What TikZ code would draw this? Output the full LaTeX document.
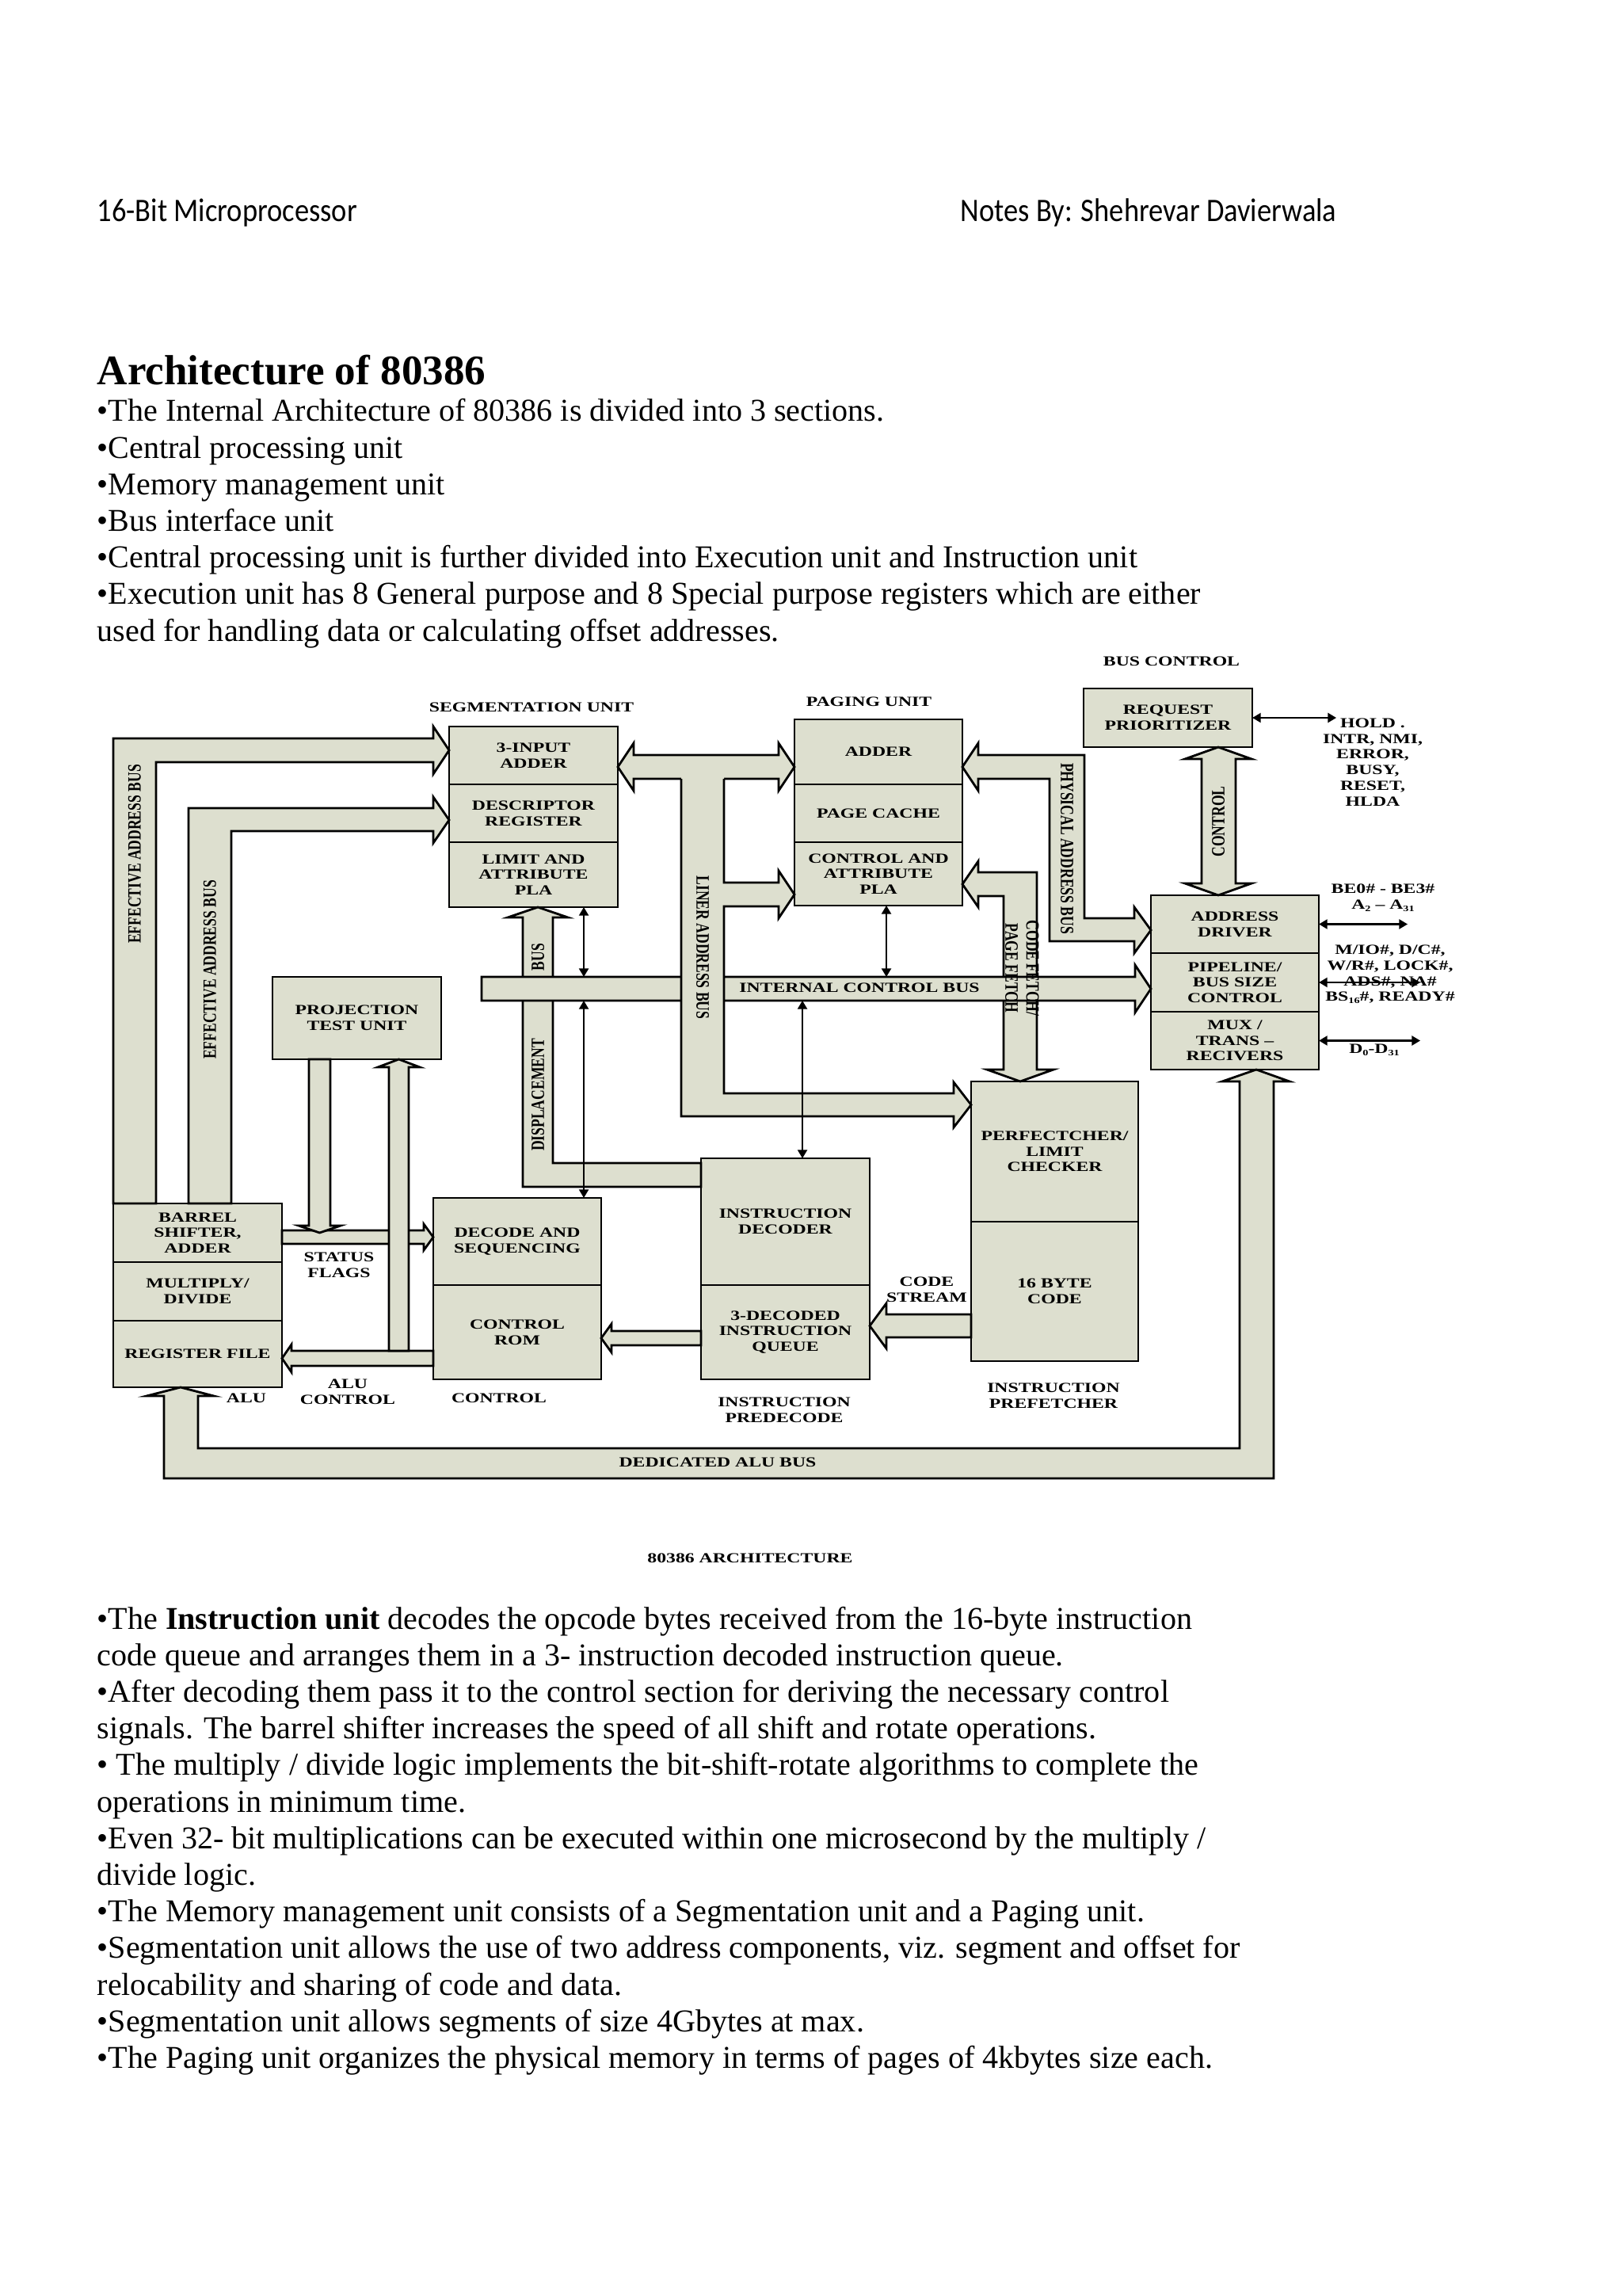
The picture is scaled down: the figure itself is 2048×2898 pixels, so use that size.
\documentclass[tikz,border=0pt]{standalone}
\usepackage{fontspec}
\usepackage{graphicx}
\setmainfont{Liberation Serif}
\newfontfamily\headfont{Carlito}[FakeStretch=0.88]
\newfontfamily\diagfont{Liberation Serif}[FakeStretch=1.35]
\newfontfamily\vertfont{Liberation Serif}
\usetikzlibrary{arrows.meta}
\definecolor{busgrey}{RGB}{221,223,207}
\newcommand{\diagtxt}{\diagfont\bfseries\fontsize{5}{5.6}\selectfont}
\newcommand{\vertxt}{\vertfont\bfseries\fontsize{5}{5.6}\selectfont}
\newcommand{\vstretch}[1]{\scalebox{1}[1.35]{#1}}
\newcommand{\sbs}[1]{\raisebox{-0.4ex}{\fontsize{3}{3}\selectfont #1}}
\newcommand{\bodyfont}{\fontsize{11.4}{13}\selectfont}
\tikzset{
  blk/.style={draw=black, fill=busgrey, line width=0.8pt, inner sep=0pt, outer sep=0pt, align=center, font=\diagtxt},
  bus/.style={draw=black, fill=busgrey, line width=0.8pt, line join=miter},
  busedge/.style={draw=black, line width=0.8pt, line join=miter},
  sig/.style={{Triangle[length=3pt,width=3.4pt]}-{Triangle[length=3pt,width=3.4pt]}, line width=0.6pt},
  lbl/.style={align=center, inner sep=0pt, font=\diagtxt},
  vlbl/.style={inner sep=0pt, font=\vertxt},
  bodytxt/.style={anchor=base west, inner sep=0pt, font=\bodyfont}
}
\begin{document}
\begin{tikzpicture}[x=0.01cm, y=-0.01cm]
\useasboundingbox (0,0) rectangle (2048,2898);

% page header and text above the figure
\node[anchor=base west, inner sep=0pt, font=\headfont\fontsize{11.8}{13}\selectfont] (hdleft) at (122,280) {16-Bit Microprocessor};
\node[anchor=base east, inner sep=0pt, font=\headfont\fontsize{11.8}{13}\selectfont] (hdright) at (1688,280) {Notes By: Shehrevar Davierwala};
\node[anchor=base west, inner sep=0pt, font=\bfseries\fontsize{15.1}{17}\selectfont] (title) at (122,486) {Architecture of 80386};
\foreach \ln [count=\k from 0] in {
  {•The Internal Architecture of 80386 is divided into 3 sections.},
  {•Central processing unit},
  {•Memory management unit},
  {•Bus interface unit},
  {•Central processing unit is further divided into Execution unit and Instruction unit},
  {•Execution unit has 8 General purpose and 8 Special purpose registers which are either},
  {used for handling data or calculating offset addresses.}}
  \node[bodytxt] (intro\k) at (122,{532+46.2*\k}) {\ln};

% memory management: segmentation and paging
\node[lbl] (seghead) at (671,893) {SEGMENTATION UNIT};
\node[lbl] (pghead) at (1097,886) {PAGING UNIT};
\node[blk, minimum width=2.13cm, minimum height=0.73cm] (segadd) at (673.5,953.5) {3-INPUT\\ADDER};
\node[blk, minimum width=2.13cm, minimum height=0.73cm] (segdesc) at (673.5,1026.5) {DESCRIPTOR\\REGISTER};
\node[blk, minimum width=2.13cm, minimum height=0.82cm] (segpla) at (673.5,1104) {LIMIT AND\\ATTRIBUTE\\PLA};
\node[blk, minimum width=2.12cm, minimum height=0.82cm] (pgadd) at (1109,949) {ADDER};
\node[blk, minimum width=2.12cm, minimum height=0.73cm] (pgcache) at (1109,1026.5) {PAGE CACHE};
\node[blk, minimum width=2.12cm, minimum height=0.80cm] (pgpla) at (1109,1103) {CONTROL AND\\ATTRIBUTE\\PLA};

% bus control
\node[lbl] (bchead) at (1479,835) {BUS CONTROL};
\node[blk, minimum width=2.13cm, minimum height=0.74cm] (req) at (1474.5,906) {REQUEST\\PRIORITIZER};
\node[blk, minimum width=2.12cm, minimum height=0.73cm] (addrdrv) at (1559,1166.5) {ADDRESS\\DRIVER};
\node[blk, minimum width=2.12cm, minimum height=0.74cm] (pipeline) at (1559,1240) {PIPELINE/\\BUS SIZE\\CONTROL};
\node[blk, minimum width=2.12cm, minimum height=0.73cm] (mux) at (1559,1313.5) {MUX /\\TRANS –\\RECIVERS};

% execution and instruction units
\node[blk, minimum width=2.13cm, minimum height=1.04cm] (ptu) at (450.5,1285) {PROJECTION\\TEST UNIT};
\node[blk, minimum width=2.13cm, minimum height=0.74cm] (barrel) at (249.5,1556) {BARREL\\SHIFTER,\\ADDER};
\node[blk, minimum width=2.13cm, minimum height=0.74cm] (muldiv) at (249.5,1630) {MULTIPLY/\\DIVIDE};
\node[blk, minimum width=2.13cm, minimum height=0.84cm] (regfile) at (249.5,1709) {REGISTER FILE};
\node[blk, minimum width=2.12cm, minimum height=1.10cm] (decseq) at (653,1567) {DECODE AND\\SEQUENCING};
\node[blk, minimum width=2.12cm, minimum height=1.19cm] (ctrlrom) at (653,1681.5) {CONTROL\\ROM};
\node[blk, minimum width=2.13cm, minimum height=1.60cm] (insdec) at (991.5,1542) {INSTRUCTION\\DECODER};
\node[blk, minimum width=2.13cm, minimum height=1.19cm] (queue) at (991.5,1681.5) {3-DECODED\\INSTRUCTION\\QUEUE};
\node[blk, minimum width=2.11cm, minimum height=1.77cm] (limchk) at (1331.5,1453.5) {PERFECTCHER/\\LIMIT\\CHECKER};
\node[blk, minimum width=2.11cm, minimum height=1.76cm] (bytecode) at (1331.5,1630) {16 BYTE\\CODE};

% buses
\draw[bus] (143,1519) -- (143,932) -- (547,932) -- (547,917) -- (567,947) -- (547,977) -- (547,962) -- (197,962) -- (197,1519) -- cycle;
\draw[bus] (238,1519) -- (238,1020) -- (547,1020) -- (547,1006) -- (567,1035) -- (547,1064) -- (547,1049) -- (292,1049) -- (292,1519) -- cycle;
\draw[bus] (780,968) -- (800,938) -- (800,953) -- (983,953) -- (983,938) -- (1003,968) -- (983,998) -- (983,983) -- (800,983) -- (800,998) -- cycle;
\draw[bus] (1215,968) -- (1235,938) -- (1235,953) -- (1369,953) -- (1369,1159) -- (1432,1159) -- (1432,1145) -- (1453,1174) -- (1432,1203) -- (1432,1188) -- (1325,1188) -- (1325,983) -- (1235,983) -- (1235,998) -- cycle;
\draw[bus] (1215,1116) -- (1235,1087) -- (1235,1101) -- (1309,1101) -- (1309,1350) -- (1330,1350) -- (1288,1365) -- (1246,1350) -- (1267,1350) -- (1267,1131) -- (1235,1131) -- (1235,1145) -- cycle;
\draw[bus] (660,1498) -- (660,1158) -- (641,1158) -- (679,1145) -- (717,1158) -- (698,1158) -- (698,1468) -- (885,1468) -- (885,1498) -- cycle;
\draw[bus] (1538,943) -- (1580,958) -- (1560,958) -- (1560,1115) -- (1580,1115) -- (1538,1130) -- (1496,1115) -- (1517,1115) -- (1517,958) -- (1496,958) -- cycle;
\draw[bus] (608,1233) -- (1433,1233) -- (1433,1218) -- (1453,1248) -- (1433,1278) -- (1433,1263) -- (608,1263) -- cycle;
\fill[busgrey] (860,981) -- (860,1409) -- (1204,1409) -- (1204,1423) -- (1226,1394.5) -- (1204,1366) -- (1204,1380) -- (914,1380) -- (914,1144) -- (983,1144) -- (983,1159) -- (1003,1129) -- (983,1099) -- (983,1114) -- (914,1114) -- (914,981) -- cycle;
\draw[busedge] (860,983) -- (860,1409) -- (1204,1409) -- (1204,1423) -- (1226,1394.5) -- (1204,1366) -- (1204,1380) -- (914,1380) -- (914,1144) -- (983,1144) -- (983,1159) -- (1003,1129) -- (983,1099) -- (983,1114) -- (914,1114) -- (914,983);
\draw[bus] (356,1553) -- (535,1553) -- (535,1545) -- (547,1561.5) -- (535,1578) -- (535,1570) -- (356,1570) -- cycle;
\draw[bus] (390,1337) -- (390,1547) -- (377,1547) -- (403.5,1556) -- (430,1547) -- (417,1547) -- (417,1337) -- cycle;
\draw[bus] (547,1705) -- (368,1705) -- (368,1697) -- (356,1714.5) -- (368,1732) -- (368,1724) -- (547,1724) -- cycle;
\draw[bus] (491,1705) -- (491,1347) -- (477,1347) -- (503.5,1337) -- (530,1347) -- (516,1347) -- (516,1705) -- cycle;
\draw[bus] (885,1680) -- (772,1680) -- (772,1671) -- (759,1689) -- (772,1707) -- (772,1698) -- (885,1698) -- cycle;
\draw[bus] (1226,1659) -- (1119,1659) -- (1119,1645) -- (1098,1673.5) -- (1119,1702) -- (1119,1688) -- (1226,1688) -- cycle;
\draw[bus] (1586,1350) -- (1628,1365) -- (1608,1365) -- (1608,1866) -- (207,1866) -- (207,1762) -- (185,1762) -- (228,1751) -- (270,1762) -- (250,1762) -- (250,1828) -- (1565,1828) -- (1565,1365) -- (1543,1365) -- cycle;

% thin control lines
\coordinate (icbN) at (608,1233);
\coordinate (icbS) at (608,1263);
\coordinate (s1) at ([xshift=0.635cm]segpla.south);
\coordinate (s2) at ([xshift=0.1cm]pgpla.south);
\coordinate (s3) at ([xshift=0.215cm]insdec.north);
\draw[sig] (s1) -- (s1 |- icbN);
\draw[sig] (s1 |- icbS) -- (s1 |- decseq.north);
\draw[sig] (s2) -- (s2 |- icbN);
\draw[sig] (s3 |- icbS) -- (s3);

% external signals
\coordinate (holdend) at (1687,906);
\coordinate (beend) at (1777,1166.5);
\coordinate (ctlend) at (1793,1240);
\coordinate (dend) at (1793,1313.5);
\draw[sig] (req.east) -- (holdend);
\draw[sig] (addrdrv.east) -- (beend);
\draw[sig] (pipeline.east) -- (ctlend);
\draw[sig] (mux.east) -- (dend);
\node[lbl] (holdlbl) at (1733,962) {HOLD .\\INTR, NMI,\\ERROR,\\BUSY,\\RESET,\\HLDA};
\node[lbl] (belbl) at (1746,1133) {BE0\# - BE3\#\\A\sbs{2} – A\sbs{31}};
\node[lbl] (ctllbl) at (1755,1230) {M/IO\#, D/C\#,\\W/R\#, LOCK\#,\\ADS\#, NA\#\\BS\sbs{16}\#, READY\#};
\node[lbl] (dlbl) at (1735,1325) {D\sbs{0}-D\sbs{31}};

% bus and section labels
\node[lbl] (icblbl) at (1085,1247) {INTERNAL CONTROL BUS};
\node[lbl] (dablbl) at (906,1846) {DEDICATED ALU BUS};
\node[lbl] (sflbl) at (428,1597) {STATUS\\FLAGS};
\node[lbl] (aclbl) at (439,1757) {ALU\\CONTROL};
\node[lbl] (alulbl) at (311,1765) {ALU};
\node[lbl] (ctllbl2) at (630,1765) {CONTROL};
\node[lbl] (predlbl) at (990,1780) {INSTRUCTION\\PREDECODE};
\node[lbl] (preflbl) at (1330,1762) {INSTRUCTION\\PREFETCHER};
\node[lbl] (cslbl) at (1170,1628) {CODE\\STREAM};
\node[lbl] (figlbl) at (947,1967) {80386 ARCHITECTURE};
\node[vlbl, rotate=90] (ea1lbl) at (170,1078) {\vstretch{EFFECTIVE ADDRESS BUS}};
\node[vlbl, rotate=90] (ea2lbl) at (265,1224) {\vstretch{EFFECTIVE ADDRESS BUS}};
\node[vlbl, rotate=90] (buslbl) at (679,1208) {\vstretch{BUS}};
\node[vlbl, rotate=90] (displbl) at (679,1382) {\vstretch{DISPLACEMENT}};
\node[vlbl, rotate=-90] (linlbl) at (887,1196) {\vstretch{LINER ADDRESS BUS}};
\node[vlbl, rotate=-90] (phylbl) at (1347,1071) {\vstretch{PHYSICAL ADDRESS BUS}};
\node[vlbl, rotate=-90] (cflbl) at (1288,1222) {\vstretch{\begin{tabular}{@{}c@{}}CODE FETCH/\\PAGE FETCH\end{tabular}}};
\node[vlbl, rotate=90] (ctlvlbl) at (1538,1037) {\vstretch{CONTROL}};

% text below the figure
\foreach \ln [count=\k from 0] in {
  {•The \textbf{Instruction unit} decodes the opcode bytes received from the 16-byte instruction},
  {code queue and arranges them in a 3- instruction decoded instruction queue.},
  {•After decoding them pass it to the control section for deriving the necessary control},
  {signals. The barrel shifter increases the speed of all shift and rotate operations.},
  {• The multiply / divide logic implements the bit-shift-rotate algorithms to complete the},
  {operations in minimum time.},
  {•Even 32- bit multiplications can be executed within one microsecond by the multiply /},
  {divide logic.},
  {•The Memory management unit consists of a Segmentation unit and a Paging unit.},
  {•Segmentation unit allows the use of two address components, viz. segment and offset for},
  {relocability and sharing of code and data.},
  {•Segmentation unit allows segments of size 4Gbytes at max.},
  {•The Paging unit organizes the physical memory in terms of pages of 4kbytes size each.}}
  \node[bodytxt] (notes\k) at (122,{2056+46.2*\k}) {\ln};
\end{tikzpicture}
\end{document}
